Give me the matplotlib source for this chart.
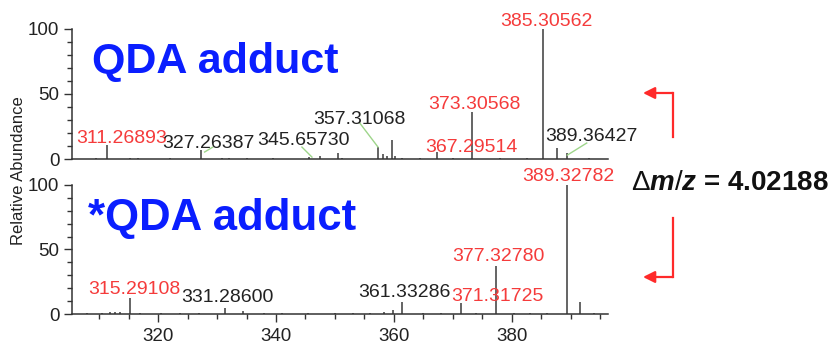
import matplotlib.pyplot as plt
from matplotlib.ticker import MultipleLocator
from matplotlib.patches import FancyArrowPatch

plt.rcParams['font.family'] = ['Liberation Sans', 'DejaVu Sans']
plt.rcParams['mathtext.fontset'] = 'custom'
plt.rcParams['mathtext.rm'] = 'Liberation Sans'
plt.rcParams['mathtext.it'] = 'Liberation Sans:bold:italic'

# QDA adduct spectrum (m/z, relative abundance)
qda_mz = [309.5, 311.27, 315.2, 316.6, 322.0, 327.26, 330.8, 332.0, 335.0, 339.5,
          345.66, 347.5, 350.5, 351.2, 357.31, 358.1, 358.8, 359.6, 360.1, 361.3,
          364.5, 367.30, 370.0, 373.31, 378.0, 382.5, 385.31, 387.6, 389.36, 393.0]
qda_int = [0.8, 11, 0.8, 1.0, 1.0, 7, 1.0, 0.8, 1.0, 1.0,
           1.5, 2.0, 4.6, 1.0, 9, 4.0, 2.0, 14.6, 2.0, 1.0,
           0.8, 5.5, 0.8, 36, 1.0, 1.0, 100, 8.5, 4.5, 0.8]

# *QDA adduct spectrum
sqda_mz = [308.0, 310.5, 311.9, 312.7, 313.5, 315.29, 317.0, 320.5, 323.7, 327.0,
           331.29, 334.4, 338.0, 341.0, 345.4, 350.0, 353.0, 356.0, 358.3, 359.8,
           361.33, 365.0, 368.0, 371.32, 374.0, 377.33, 380.3, 383.0, 386.0, 389.33,
           391.5, 394.0]
sqda_int = [0.8, 1.0, 1.5, 1.5, 1.5, 12.4, 1.0, 0.8, 1.0, 0.8,
            4.6, 2.5, 0.8, 1.0, 1.0, 0.8, 1.0, 0.8, 1.5, 3.0,
            9.3, 0.8, 1.0, 8.5, 1.0, 37, 1.0, 0.8, 1.0, 100,
            9.3, 0.8]

# peak annotations: text, label x, label y, colour
qda_labels = [
    ('311.26893', 313.9, 16.0, 'red'),
    ('327.26387', 328.6, 12.2, 'black'),
    ('345.65730', 344.6, 14.2, 'black'),
    ('357.31068', 354.2, 30.5, 'black'),
    ('373.30568', 373.7, 42.2, 'red'),
    ('385.30562', 385.9, 106.0, 'red'),
    ('367.29514', 373.2, 9.2, 'red'),
    ('389.36427', 393.5, 17.0, 'black'),
]
qda_leaders = [
    ((327.9, 329.3), (5.4, 9.2)),
    ((344.4, 346.1), (9.2, 1.5)),
    ((354.2, 357.3), (27.7, 9.2)),
    ((392.7, 389.4), (12.3, 3.0)),
]
sqda_labels = [
    ('315.29108', 315.9, 18.6, 'red'),
    ('331.28600', 331.7, 12.4, 'black'),
    ('361.33286', 361.7, 16.3, 'black'),
    ('371.31725', 377.6, 13.9, 'red'),
    ('377.32780', 377.8, 44.2, 'red'),
    ('389.32782', 389.5, 106.6, 'red'),
]

red = '#ff2a2a'
label_red = '#f53b3b'
blue = '#0a1eff'
green = '#9ed58a'
grey = '#333333'

fig = plt.figure(figsize=(8.31, 3.48), dpi=100)
ax1 = fig.add_axes([0.0866, 0.543, 0.645, 0.374])
ax2 = fig.add_axes([0.0866, 0.0977, 0.645, 0.371])


def style_axis(ax, show_x):
    ax.set_xlim(305.4, 396.3)
    ax.set_ylim(0, 100)
    for side in ('top', 'right'):
        ax.spines[side].set_visible(False)
    for side in ('left', 'bottom'):
        ax.spines[side].set_color(grey)
        ax.spines[side].set_linewidth(1.1)
    ax.yaxis.set_major_locator(MultipleLocator(50))
    ax.yaxis.set_minor_locator(MultipleLocator(10))
    ax.tick_params(axis='y', which='major', length=6, width=1, color=grey,
                   labelsize=13.5, labelcolor='#222222', pad=3)
    ax.tick_params(axis='y', which='minor', length=3.5, width=1, color=grey)
    if show_x:
        ax.xaxis.set_major_locator(MultipleLocator(20))
        ax.xaxis.set_minor_locator(MultipleLocator(5))
        ax.tick_params(axis='x', which='major', length=6, width=1, color=grey,
                       labelsize=13.5, labelcolor='#222222', pad=4)
        ax.tick_params(axis='x', which='minor', length=3.5, width=1, color=grey)
    else:
        ax.set_xticks([])


style_axis(ax1, False)
style_axis(ax2, True)

ax1.vlines(qda_mz, 0, qda_int, color='#3a3a3a', lw=1.1, clip_on=False)
ax2.vlines(sqda_mz, 0, sqda_int, color='#3a3a3a', lw=1.1, clip_on=False)

for xs, ys in qda_leaders:
    ax1.plot(xs, ys, color=green, lw=1, clip_on=False)

for ax, labels in ((ax1, qda_labels), (ax2, sqda_labels)):
    for txt, x, y, c in labels:
        ax.text(x, y, txt, ha='center', va='center', fontsize=14,
                color=label_red if c == 'red' else '#222222', clip_on=False)

ax1.text(0.038, 0.745, 'QDA adduct', transform=ax1.transAxes, fontsize=31,
         fontweight='bold', color=blue, ha='left', va='center')
ax2.text(0.03, 0.74, '*QDA adduct', transform=ax2.transAxes, fontsize=31.5,
         fontweight='bold', color=blue, ha='left', va='center')

fig.text(0.022, 0.51, 'Relative Abundance', rotation=90, fontsize=12,
         color='#222222', ha='center', va='center')

fig.text(0.997, 0.474, r'$\Delta\mathit{m/z}$ = 4.02188', fontsize=20,
         fontweight='bold', color='#111111', ha='right', va='center')

# elbow arrows between the two spectra
W, H = 831, 348
x_v, x_tip = 673 / W, 643 / W
for y_start, y_turn in ((137, 93), (218, 277)):
    fig.lines.append(plt.Line2D([x_v, x_v], [1 - y_start / H, 1 - y_turn / H],
                                transform=fig.transFigure, color=red, lw=1.6))
    fig.patches.append(FancyArrowPatch(
        (x_v, 1 - y_turn / H), (x_tip, 1 - y_turn / H),
        transform=fig.transFigure, arrowstyle='-|>,head_length=7,head_width=3.5',
        color=red, lw=1.6, shrinkA=0, shrinkB=0))

fig.savefig('out.png', dpi=100)
